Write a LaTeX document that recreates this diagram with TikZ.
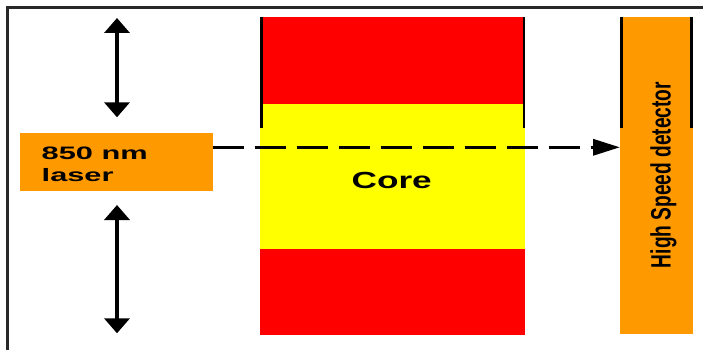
\documentclass[tikz,border=0pt]{standalone}
\usepackage{fontspec}
\setmainfont{Liberation Sans}
\usetikzlibrary{arrows.meta}
\definecolor{laserorange}{RGB}{255,153,0}
\definecolor{cladred}{RGB}{255,0,0}
\definecolor{coreyellow}{RGB}{255,255,0}
\definecolor{framegray}{RGB}{40,40,40}
\begin{document}
\begin{tikzpicture}[x=1pt,y=-1pt,
  block/.style={rectangle, draw=none, inner sep=0pt, outer sep=0pt},
  sideline/.style={line width=2.2pt, black},
  motion/.style={line width=4.5pt,
    {Triangle[width=25pt,length=15pt]}-{Triangle[width=25pt,length=15pt]}},
  beam/.style={line width=3.3pt, dash pattern=on 31pt off 11pt,
    -{Triangle[width=16pt,length=27pt]}},
  txt/.style={inner sep=0pt, outer sep=0pt}
]
\useasboundingbox (0,0) rectangle (703,350);

% outer frame (only left and top edges fall inside the page)
\draw[line width=3.3pt, framegray] (7.7,360) -- (7.7,7.7) -- (710,7.7);

% fibre: cladding / core / cladding
\node[block, fill=cladred,    minimum width=265pt, minimum height=86.7pt] (cladtop) at (392.5,60.65) {};
\node[block, fill=coreyellow, minimum width=265pt, minimum height=145pt]  (core)    at (392.5,176.5) {};
\node[block, fill=cladred,    minimum width=265pt, minimum height=86pt]   (cladbot) at (392.5,292)   {};
\draw[sideline] ([xshift=1.5pt]cladtop.north west) -- ++(0,110.7);
\draw[sideline] ([xshift=-1.3pt]cladtop.north east) -- ++(0,110.7);

% detector
\node[block, fill=laserorange, minimum width=72.7pt, minimum height=317pt] (detector) at (656.35,175.8) {};
\draw[sideline] ([xshift=1.5pt]detector.north west) -- ++(0,110.7);
\draw[sideline] ([xshift=-1.3pt]detector.north east) -- ++(0,110.7);

% laser source
\node[block, fill=laserorange, minimum width=192.7pt, minimum height=58pt] (laser) at (116.35,161.7) {};

% labels
\node[txt, anchor=base west, font=\fontsize{18}{22}\selectfont\bfseries] (lasertop) at (41.7,159.3) {\scalebox{1.71}[1]{850 nm}};
\node[txt, anchor=base west, font=\fontsize{18}{22}\selectfont\bfseries] (laserbot) at (41.7,181.7) {\scalebox{1.71}[1]{laser}};
\node[txt, anchor=base, font=\fontsize{23.3}{28}\selectfont\bfseries] (corelabel) at (391.7,188.3) {\scalebox{1.51}[1]{Core}};
\node[txt, anchor=base, rotate=90, font=\fontsize{28}{32}\selectfont\bfseries] (detlabel) at (670.7,175) {\scalebox{0.684}[1]{High Speed detector}};

% beam from the laser to the detector
\coordinate (beamstart) at ([yshift=-14.6pt]laser.north east);
\draw[beam] (beamstart) -- (beamstart -| detector.west);

% up/down motion of the laser
\coordinate (upA) at (117,18);
\coordinate (upB) at (117,117.3);
\coordinate (dnA) at (117,205);
\coordinate (dnB) at (117,333.3);
\draw[motion] (upA) -- (upB);
\draw[motion] (dnA) -- (dnB);
\end{tikzpicture}
\end{document}
